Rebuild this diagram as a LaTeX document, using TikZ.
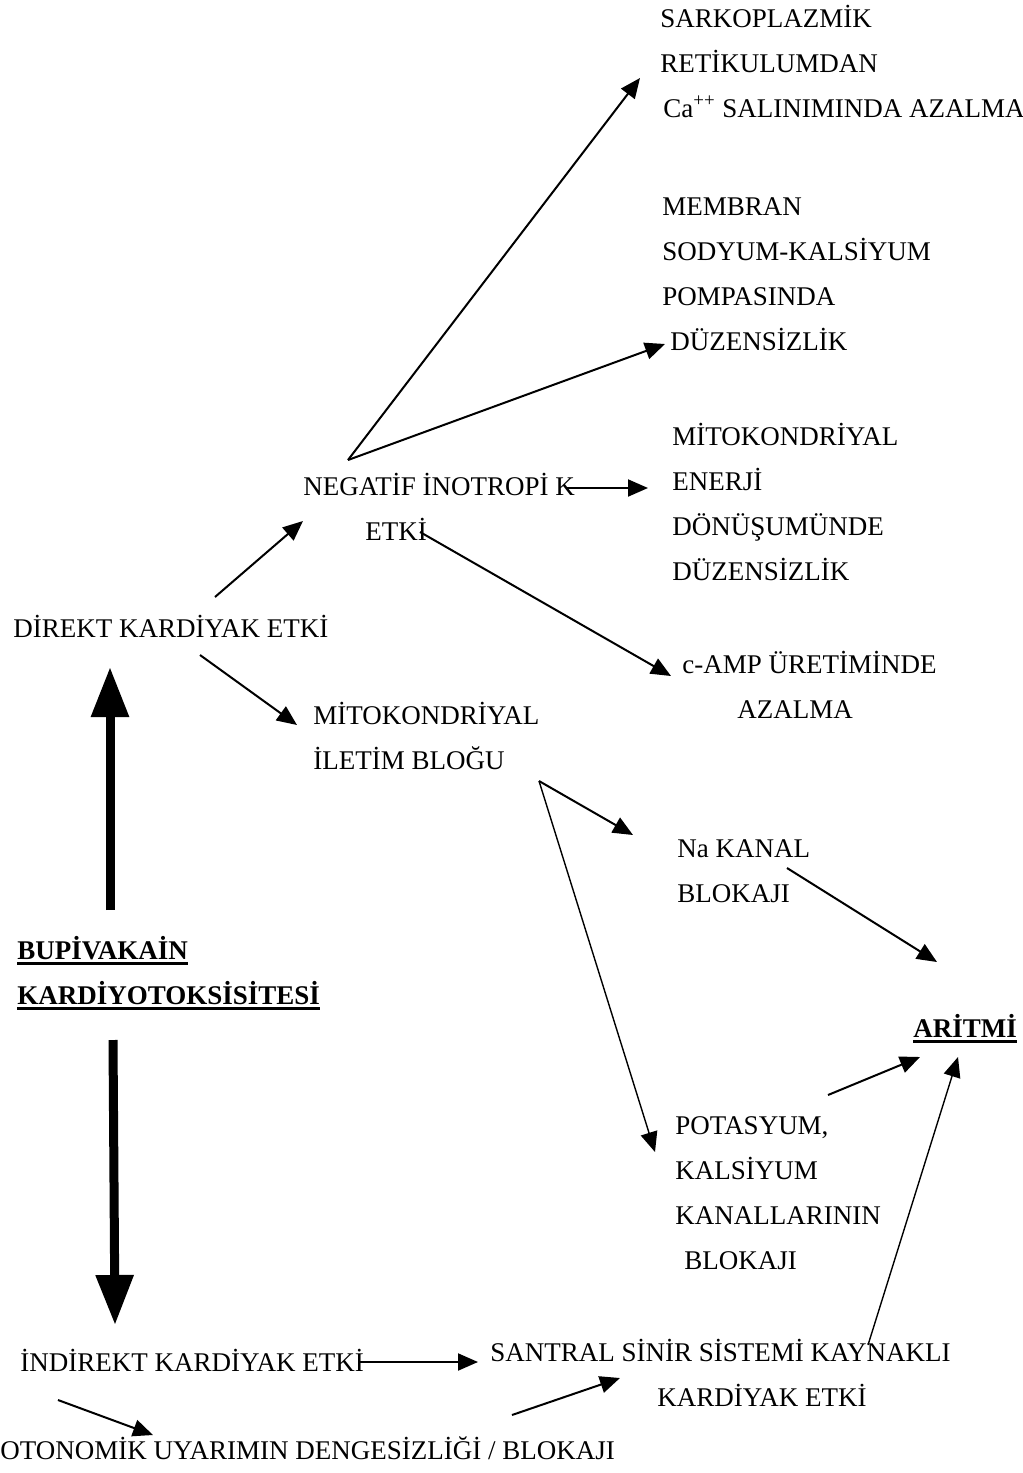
\documentclass[tikz,border=0pt]{standalone}
\usepackage{fontspec}
\setmainfont{Liberation Serif}
\usetikzlibrary{arrows.meta}

\newcommand{\thickul}[1]{\setbox0\hbox{#1}\rlap{\rule[-3pt]{\wd0}{1.4pt}}\box0}

\begin{document}
\begin{tikzpicture}[x=0.5pt,y=-0.5pt,
		boxtext/.style={anchor=base west, inner sep=0pt, align=left, font=\fontsize{13.5}{22.5}\selectfont},
		titletext/.style={boxtext, font=\fontsize{13.5}{22.5}\selectfont\bfseries},
		thinarrow/.style={-{Triangle[length=10pt,width=8.5pt]}, line width=1pt},
		hairarrow/.style={thinarrow, line width=0.7pt},
		thickarrow/.style={-{Triangle[length=25pt,width=18pt]}, line width=4.5pt}]
		\useasboundingbox (0,0) rectangle (1023,1473);

		% Nodes with text (placed at the base of their last line)
		\node[boxtext] (sarko) at (660,117) {SARKOPLAZMİK\\RETİKULUMDAN\\\hspace*{1.5pt}Ca\textsuperscript{++} SALINIMINDA AZALMA};
		\node[boxtext] (membran) at (662,350) {MEMBRAN\\SODYUM-KALSİYUM\\POMPASINDA\\\hspace*{4pt}DÜZENSİZLİK};
		\node[boxtext] (enerji) at (672,580) {MİTOKONDRİYAL\\ENERJİ\\DÖNÜŞUMÜNDE\\DÜZENSİZLİK};
		\node[boxtext] (negatif) at (303,540) {NEGATİF İNOTROPİ K\\\hspace*{31pt}ETKİ};
		\node[boxtext] (direkt) at (13,637) {DİREKT KARDİYAK ETKİ};
		\node[boxtext] (camp) at (682,718) {c-AMP ÜRETİMİNDE\\\hspace*{27.5pt}AZALMA};
		\node[boxtext] (iletim) at (313,769) {MİTOKONDRİYAL\\İLETİM BLOĞU};
		\node[boxtext] (nakanal) at (677,902) {Na KANAL\\BLOKAJI};
		\node[titletext] (bupi) at (17,1004) {\thickul{BUPİVAKAİN}\\\thickul{KARDİYOTOKSİSİTESİ}};
		\node[titletext] (aritmi) at (913,1037) {\thickul{ARİTMİ}};
		\node[boxtext] (potasyum) at (675,1269) {POTASYUM,\\KALSİYUM\\KANALLARININ\\\hspace*{4.5pt}BLOKAJI};
		\node[boxtext] (indirekt) at (20,1371) {İNDİREKT KARDİYAK ETKİ};
		\node[boxtext] (santral) at (490,1406) {SANTRAL SİNİR SİSTEMİ KAYNAKLI\\\hspace*{83.5pt}KARDİYAK ETKİ};
		\node[boxtext] (otonomik) at (0,1459) {OTONOMİK UYARIMIN DENGESİZLİĞİ / BLOKAJI};

		% Arrow ends
		\coordinate (negApex) at (348,460);
		\coordinate (sarkoTip) at (640,78);
		\coordinate (membranTip) at (665,344);
		\coordinate (negEnd) at (567,488);
		\coordinate (enerjiTip) at (648,488);
		\coordinate (etkiEnd) at (420,532);
		\coordinate (campTip) at (671,676);
		\coordinate (direktUp) at (215,597);
		\coordinate (negTip) at (303,521);
		\coordinate (direktDown) at (200,655);
		\coordinate (iletimTip) at (297,725);
		\coordinate (bupiTop) at (110,910);
		\coordinate (direktTip) at (110,667);
		\coordinate (bupiBottom) at (113,1040);
		\coordinate (indirektTip) at (115,1325);
		\coordinate (iletimApex) at (539,781);
		\coordinate (naTip) at (633,835);
		\coordinate (potTip) at (655,1152);
		\coordinate (naEnd) at (787,868);
		\coordinate (aritmiTipA) at (937,962);
		\coordinate (potEnd) at (828,1095);
		\coordinate (aritmiTipB) at (920,1057);
		\coordinate (santralEnd) at (868,1345);
		\coordinate (aritmiTipC) at (958,1057);
		\coordinate (indirektEnd) at (360,1362);
		\coordinate (santralTip) at (478,1362);
		\coordinate (indirektLow) at (58,1400);
		\coordinate (otonomikTip) at (153,1435);
		\coordinate (otonomikEnd) at (512,1415);
		\coordinate (santralTipB) at (620,1378);

		% Edges
		\draw[thickarrow] (bupiTop) -- (direktTip);
		\draw[thickarrow] (bupiBottom) -- (indirektTip);
		\draw[thinarrow] (direktUp) -- (negTip);
		\draw[thinarrow] (direktDown) -- (iletimTip);
		\draw[thinarrow] (negApex) -- (sarkoTip);
		\draw[thinarrow] (negApex) -- (membranTip);
		\draw[thinarrow] (negEnd) -- (enerjiTip);
		\draw[thinarrow] (etkiEnd) -- (campTip);
		\draw[thinarrow] (iletimApex) -- (naTip);
		\draw[hairarrow] (iletimApex) -- (potTip);
		\draw[thinarrow] (naEnd) -- (aritmiTipA);
		\draw[thinarrow] (potEnd) -- (aritmiTipB);
		\draw[hairarrow] (santralEnd) -- (aritmiTipC);
		\draw[thinarrow] (indirektEnd) -- (santralTip);
		\draw[thinarrow] (indirektLow) -- (otonomikTip);
		\draw[thinarrow] (otonomikEnd) -- (santralTipB);
	\end{tikzpicture}
\end{document}
